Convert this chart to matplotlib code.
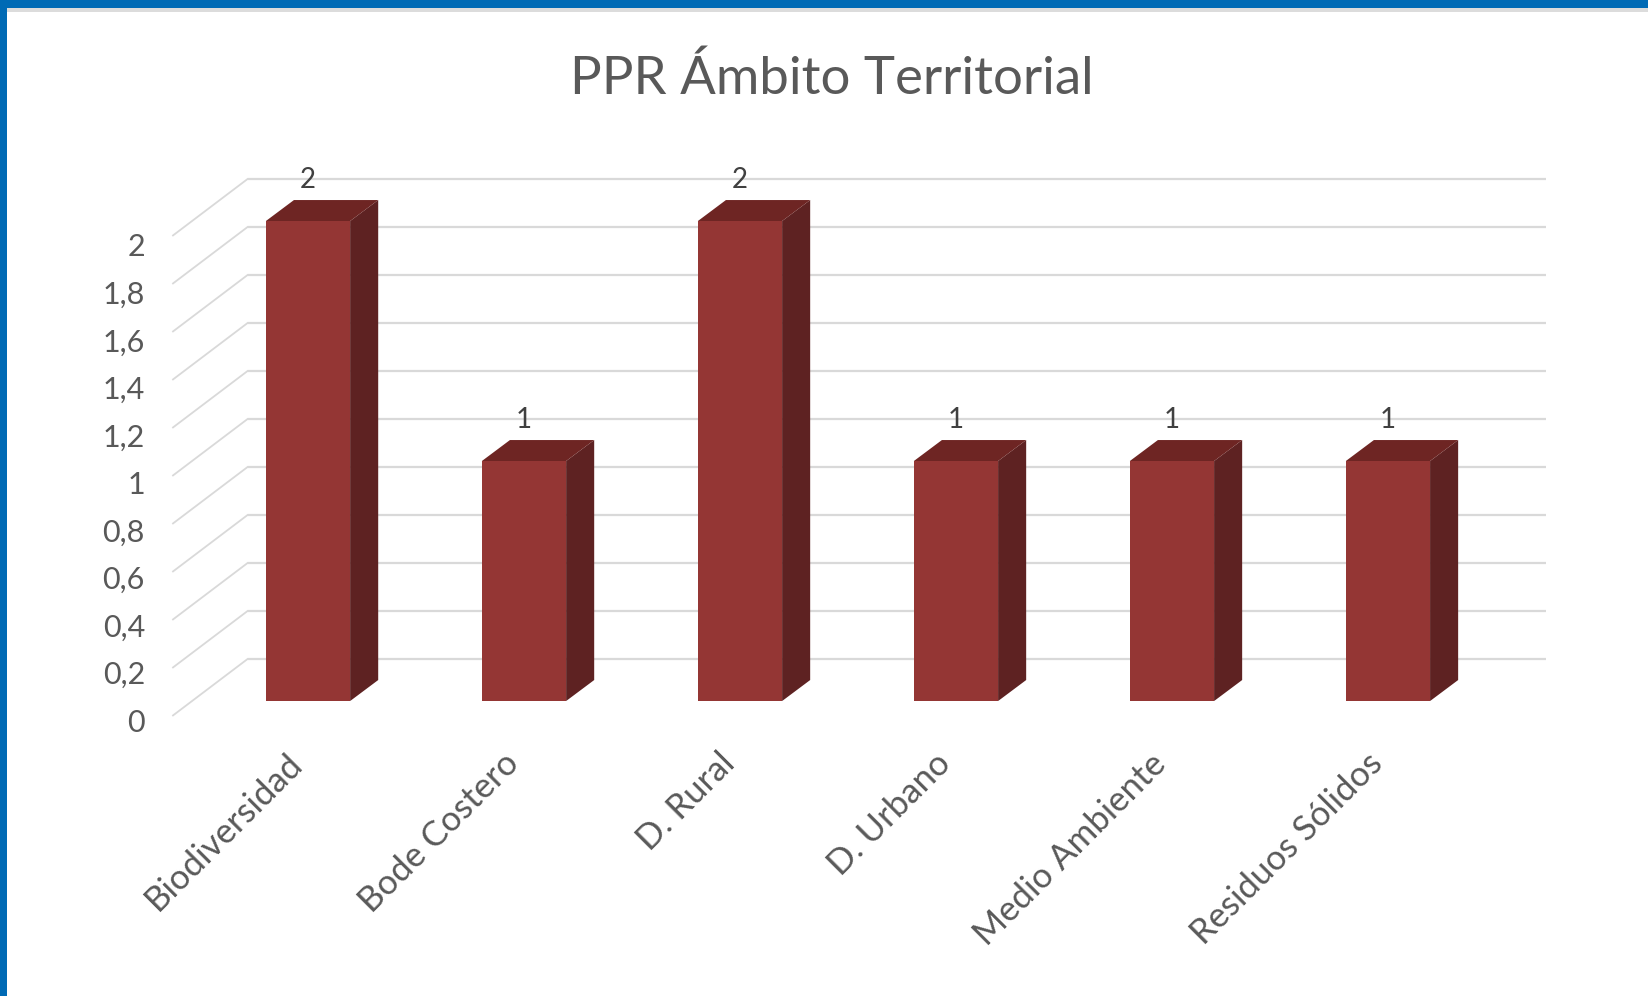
import numpy as np
import matplotlib
matplotlib.use("Agg")
import matplotlib.pyplot as plt
from matplotlib.patches import Polygon, Rectangle

# Chart data
categories = ["Biodiversidad", "Bode Costero", "D. Rural", "D. Urbano", "Medio Ambiente", "Residuos Sólidos"]
values = [2, 1, 2, 1, 1, 1]
y_ticks = [0, 0.2, 0.4, 0.6, 0.8, 1.0, 1.2, 1.4, 1.6, 1.8, 2.0]
y_tick_labels = ["0", "0,2", "0,4", "0,6", "0,8", "1", "1,2", "1,4", "1,6", "1,8", "2"]
title = "PPR Ámbito Territorial"

plt.rcParams["font.family"] = ["Lato", "DejaVu Sans"]

# Oblique "3D" projection offsets (data units)
bar_w = 0.39
bar_depth = (0.13, 0.0875)
wall_off = (0.26, 0.175)
front_off = (-0.085, -0.06)
x_left, x_right = -0.54, 5.47

front_col = "#943634"
side_col = "#5e2222"
top_col = "#6e2523"
grid_col = "#d9d9d9"
text_col = "#595959"

fig = plt.figure(figsize=(16.48, 9.96), dpi=100)
ax = fig.add_axes([0, 0, 1, 1])
ax.set_xlim(-1.426, 6.204)
ax.set_ylim(-1.229, 2.921)
ax.axis("off")

# back wall gridlines and side-wall diagonals
for v in y_ticks:
    ax.plot([x_left + wall_off[0], x_right + wall_off[0]], [v + wall_off[1], v + wall_off[1]],
            color=grid_col, lw=1.6, zorder=1, solid_capstyle="butt")
    ax.plot([x_left + front_off[0], x_left + wall_off[0]], [v + front_off[1], v + wall_off[1]],
            color=grid_col, lw=1.3, zorder=1)

# y tick labels
for v, lab in zip(y_ticks, y_tick_labels):
    ax.text(x_left + front_off[0] - 0.13, v * 0.99 + front_off[1] - 0.03, lab, ha="right", va="center",
            fontsize=22, color=text_col)

# bars
dx, dy = bar_depth
for i, v in enumerate(values):
    xl, xr = i - bar_w / 2, i + bar_w / 2
    side = Polygon([(xr, 0), (xr + dx, dy), (xr + dx, v + dy), (xr, v)], closed=True,
                   facecolor=side_col, edgecolor="none", zorder=3)
    top = Polygon([(xl, v), (xl + dx, v + dy), (xr + dx, v + dy), (xr, v)], closed=True,
                  facecolor=top_col, edgecolor="none", zorder=3)
    front = Rectangle((xl, 0), bar_w, v, facecolor=front_col, edgecolor="none", zorder=4)
    ax.add_patch(side)
    ax.add_patch(top)
    ax.add_patch(front)
    ax.text(i, v + 0.17, f"{v}", ha="center", va="center", fontsize=20, color="#404040", zorder=5)

# category labels
for i, cat in enumerate(categories):
    ax.text(i - 0.05, -0.24, cat, rotation=45, rotation_mode="anchor", ha="right", va="center",
            fontsize=25, color=text_col)

fig.text(0.505, 0.921, title, ha="center", va="center", fontsize=38, color=text_col)

# blue frame on top and left
fig.patches.append(Rectangle((0, 1 - 8 / 996), 1, 8 / 996, transform=fig.transFigure,
                             facecolor="#006ab5", edgecolor="none"))
fig.patches.append(Rectangle((0, 0), 7 / 1648, 1, transform=fig.transFigure,
                             facecolor="#006ab5", edgecolor="none"))
fig.patches.append(Rectangle((7 / 1648, 1 - 12 / 996), 1, 4 / 996, transform=fig.transFigure,
                             facecolor="#dcdcdc", edgecolor="none"))

fig.savefig("out.png", dpi=100)
